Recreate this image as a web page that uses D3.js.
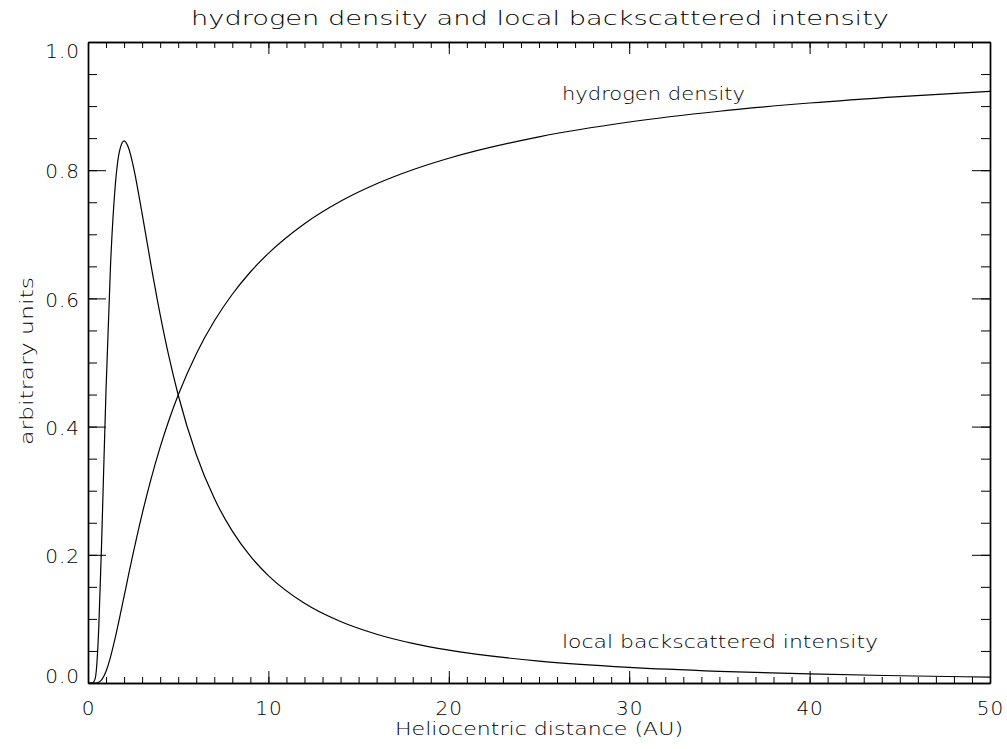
<!DOCTYPE html>
<html>
<head>
<meta charset="utf-8">
<script src="https://cdn.jsdelivr.net/npm/d3@7"></script>
<style>
  html, body { margin: 0; padding: 0; background: #fff; }
  svg { display: block; }
  text { font-family: "DejaVu Sans", "Liberation Sans", sans-serif; font-weight: 200; fill: #000; }
</style>
</head>
<body>
<svg id="chart" width="1007" height="749"></svg>
<script>
// ---- data ----
const distance = [0, 0.25, 0.4, 0.5, 0.6, 0.75, 0.875, 1, 1.25, 1.5, 1.75, 2, 2.25, 2.5, 3, 3.5, 4, 4.5, 5, 6, 7, 8, 9, 10, 12, 14, 16, 18, 20, 25, 30, 35, 40, 45, 50];
const hydrogenDensity = [0, 0, 0, 0.0003, 0.0013, 0.0048, 0.0104, 0.0183, 0.0408, 0.0695, 0.1017, 0.1353, 0.1690, 0.2019, 0.2636, 0.3189, 0.3679, 0.4111, 0.4493, 0.5134, 0.5647, 0.6065, 0.6412, 0.6703, 0.7165, 0.7515, 0.7788, 0.8007, 0.8187, 0.8521, 0.8752, 0.8920, 0.9048, 0.9149, 0.9231];
const backscatteredIntensity = [0, 0, 0.0071, 0.0335, 0.0883, 0.2147, 0.3380, 0.4580, 0.6528, 0.7722, 0.8302, 0.8458, 0.8346, 0.8076, 0.7322, 0.6508, 0.5748, 0.5075, 0.4493, 0.3565, 0.2881, 0.2369, 0.1979, 0.1676, 0.1244, 0.0959, 0.0761, 0.0618, 0.0512, 0.0341, 0.0243, 0.0182, 0.0141, 0.0113, 0.0092];
const xMajorTicks = [0, 10, 20, 30, 40, 50];
const xMinorTicks = d3.range(0, 51, 1);
const yMajorTicks = [0, 0.2, 0.4, 0.6, 0.8, 1.0];
const yMinorTicks = d3.range(0, 21).map(i => i * 0.05);
const titleText = "hydrogen density and local backscattered intensity";
const xLabelText = "Heliocentric distance (AU)";
const yLabelText = "arbitrary units";
const curveLabels = ["hydrogen density", "local backscattered intensity"];

// ---- layout ----
const svg = d3.select("#chart");
const L = 88, R = 990, T = 42, B = 683;
const x = d3.scaleLinear().domain([0, 50]).range([L, R]);
const y = d3.scaleLinear().domain([0, 1]).range([B, T]);
const fs = 18, tfs = 20;

svg.append("defs").append("clipPath").attr("id", "plotclip")
  .append("rect").attr("x", L).attr("y", T).attr("width", R - L).attr("height", B - T);

function styleAxis(g) {
  g.selectAll("path.domain").attr("stroke", "#000").attr("stroke-width", 1.4);
  g.selectAll(".tick line").attr("stroke", "#000").attr("stroke-width", 1);
  g.selectAll("text").attr("font-size", tfs).attr("font-family", null).attr("fill", "#000")
    .attr("letter-spacing", "1px");
}

// minor ticks
svg.append("g").attr("transform", `translate(0,${B})`)
  .call(d3.axisBottom(x).tickValues(xMinorTicks).tickSizeInner(-6).tickSizeOuter(0).tickFormat(""))
  .call(styleAxis);
svg.append("g").attr("transform", `translate(0,${T})`)
  .call(d3.axisTop(x).tickValues(xMinorTicks).tickSizeInner(-6).tickSizeOuter(0).tickFormat(""))
  .call(styleAxis);
svg.append("g").attr("transform", `translate(${L},0)`)
  .call(d3.axisLeft(y).tickValues(yMinorTicks).tickSizeInner(-9).tickSizeOuter(0).tickFormat(""))
  .call(styleAxis);
svg.append("g").attr("transform", `translate(${R},0)`)
  .call(d3.axisRight(y).tickValues(yMinorTicks).tickSizeInner(-9).tickSizeOuter(0).tickFormat(""))
  .call(styleAxis);

// major ticks
const gx = svg.append("g").attr("transform", `translate(0,${B})`)
  .call(d3.axisBottom(x).tickValues(xMajorTicks).tickSizeInner(-12).tickSizeOuter(0).tickPadding(18).tickFormat(d3.format("d")))
  .call(styleAxis);
svg.append("g").attr("transform", `translate(0,${T})`)
  .call(d3.axisTop(x).tickValues(xMajorTicks).tickSizeInner(-12).tickSizeOuter(0).tickFormat(""))
  .call(styleAxis);
const gy = svg.append("g").attr("transform", `translate(${L},0)`)
  .call(d3.axisLeft(y).tickValues(yMajorTicks).tickSizeInner(-18).tickSizeOuter(0).tickPadding(8).tickFormat(d3.format(".1f")))
  .call(styleAxis);
svg.append("g").attr("transform", `translate(${R},0)`)
  .call(d3.axisRight(y).tickValues(yMajorTicks).tickSizeInner(-18).tickSizeOuter(0).tickFormat(""))
  .call(styleAxis);

// end labels on the y axis sit inside the range
gy.selectAll(".tick text").attr("dy", d => d === 0 ? "-0.05em" : (d === 1 ? "0.75em" : "0.38em"));

// curves
const line = d3.line().x(d => x(d[0])).y(d => y(d[1])).curve(d3.curveMonotoneX);
const plot = svg.append("g").attr("clip-path", "url(#plotclip)");
plot.append("path").datum(distance.map((d, i) => [d, hydrogenDensity[i]]))
  .attr("d", line).attr("fill", "none").attr("stroke", "#000").attr("stroke-width", 1.2);
plot.append("path").datum(distance.map((d, i) => [d, backscatteredIntensity[i]]))
  .attr("d", line).attr("fill", "none").attr("stroke", "#000").attr("stroke-width", 1.2);

// texts
svg.append("text").attr("x", 191).attr("y", 25).attr("font-size", 20)
  .attr("textLength", 698).attr("lengthAdjust", "spacingAndGlyphs").text(titleText);
svg.append("text").attr("x", 395).attr("y", 735).attr("font-size", fs)
  .attr("textLength", 288).attr("lengthAdjust", "spacingAndGlyphs").text(xLabelText);
svg.append("text").attr("transform", "translate(33,445) rotate(-90)").attr("font-size", fs)
  .attr("textLength", 168).attr("lengthAdjust", "spacingAndGlyphs").text(yLabelText);
svg.append("text").attr("x", 562).attr("y", 100).attr("font-size", fs)
  .attr("textLength", 183).attr("lengthAdjust", "spacingAndGlyphs").text(curveLabels[0]);
svg.append("text").attr("x", 562).attr("y", 648).attr("font-size", fs)
  .attr("textLength", 316).attr("lengthAdjust", "spacingAndGlyphs").text(curveLabels[1]);
</script>
</body>
</html>
